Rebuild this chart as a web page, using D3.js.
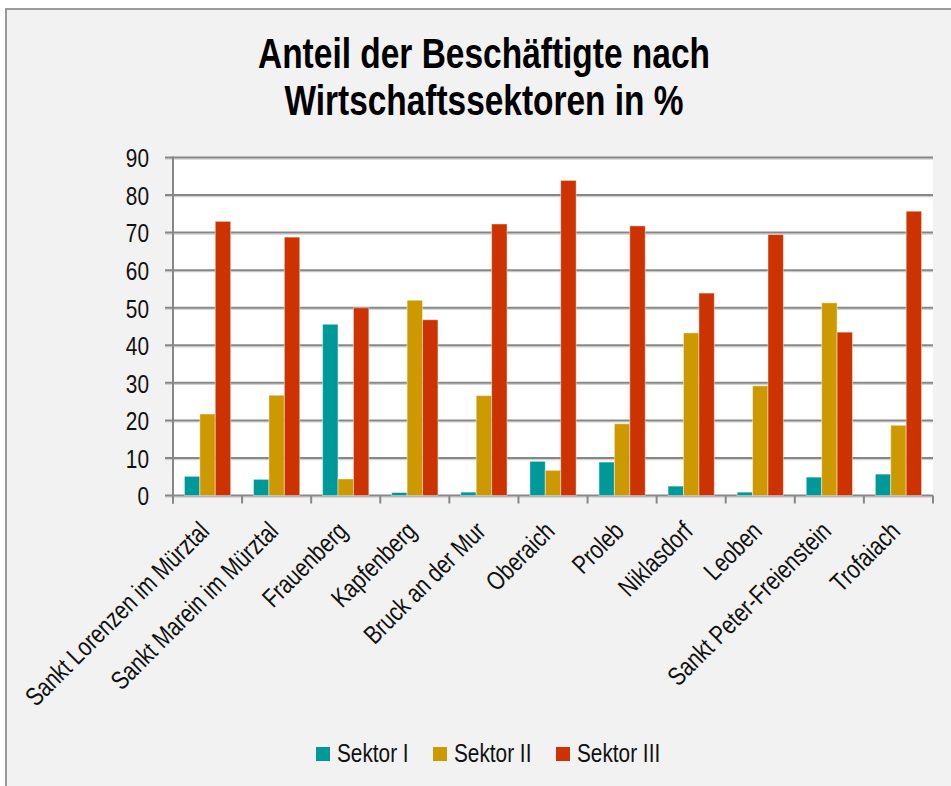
<!DOCTYPE html>
<html>
<head>
<meta charset="utf-8">
<script src="https://cdn.jsdelivr.net/npm/d3@7"></script>
<style>
  html, body { margin: 0; padding: 0; background: #ffffff; }
  svg { display: block; }
  .lbl { font-family: "Liberation Sans", Arial, sans-serif; fill: #111; }
</style>
</head>
<body>
<svg id="chart" width="951" height="786"></svg>
<script>
// Gemeinden (x-axis categories)
const categories = [
  "Sankt Lorenzen im Mürztal",
  "Sankt Marein im Mürztal",
  "Frauenberg",
  "Kapfenberg",
  "Bruck an der Mur",
  "Oberaich",
  "Proleb",
  "Niklasdorf",
  "Leoben",
  "Sankt Peter-Freienstein",
  "Trofaiach"
];

// Share of employees per economic sector, in %
const seriesNames = ["Sektor I", "Sektor II", "Sektor III"];
const sektorI   = [5.1, 4.3, 45.6, 0.8, 0.9, 9.1, 8.9, 2.5, 0.9, 4.9, 5.7];
const sektorII  = [21.7, 26.7, 4.4, 52.0, 26.6, 6.7, 19.1, 43.3, 29.2, 51.3, 18.7];
const sektorIII = [73.0, 68.8, 50.0, 46.8, 72.3, 83.9, 71.8, 53.9, 69.5, 43.5, 75.7];
const seriesColors = ["#009999", "#cc9900", "#cc3300"];

const yTicks = [0, 10, 20, 30, 40, 50, 60, 70, 80, 90];
const titleLines = ["Anteil der Beschäftigte nach", "Wirtschaftssektoren in %"];

const series = [sektorI, sektorII, sektorIII];

const svg = d3.select("#chart");
const W = 951, H = 786;
const plot = { left: 173, right: 933, top: 157.5, bottom: 495.5 };
const FS = 26;          // label font size
const NARROW = 0.8;     // horizontal condensing of label glyphs

// chart frame
svg.append("rect")
  .attr("x", 6).attr("y", 9)
  .attr("width", W + 10).attr("height", H + 10)
  .attr("fill", "#f2f2f2")
  .attr("stroke", "#9a9a9a").attr("stroke-width", 2);

// title
const title = svg.append("g");
const titleLen = [452, 399];
titleLines.forEach((t, i) => {
  title.append("text")
    .attr("class", "lbl")
    .attr("x", 484).attr("y", 67.7 + i * 47.4)
    .attr("text-anchor", "middle")
    .attr("font-size", 42).attr("font-weight", "bold")
    .attr("textLength", titleLen[i]).attr("lengthAdjust", "spacingAndGlyphs")
    .style("fill", "#000")
    .text(t);
});

// scales
const x0 = d3.scaleBand().domain(categories).range([plot.left, plot.right]).paddingInner(0).paddingOuter(0);
const x1 = d3.scaleBand().domain(d3.range(series.length)).range([0, x0.bandwidth()]).paddingInner(0).paddingOuter(0.74);
const y = d3.scaleLinear().domain([0, 90]).range([plot.bottom, plot.top]);

// plot area
svg.append("rect")
  .attr("x", plot.left).attr("y", plot.top)
  .attr("width", plot.right - plot.left).attr("height", plot.bottom - plot.top)
  .attr("fill", "#ffffff");

// gridlines (dark line with soft light shade below)
const grid = svg.append("g");
grid.selectAll("line.shade").data(yTicks).join("line")
  .attr("class", "shade")
  .attr("x1", plot.left - 8).attr("x2", plot.right)
  .attr("y1", d => y(d) + 1.6).attr("y2", d => y(d) + 1.6)
  .attr("stroke", "#d2d2d2").attr("stroke-width", 1.2);
grid.selectAll("line.major").data(yTicks).join("line")
  .attr("class", "major")
  .attr("x1", plot.left - 8).attr("x2", plot.right)
  .attr("y1", d => y(d)).attr("y2", d => y(d))
  .attr("stroke", "#878787").attr("stroke-width", 2);

// bars
const rows = categories.map((c, i) => ({ c, vals: series.map(s => s[i]) }));
const groups = svg.append("g").selectAll("g").data(rows).join("g")
  .attr("transform", d => `translate(${x0(d.c)},0)`);
groups.selectAll("rect").data(d => d.vals.map((v, k) => ({ v, k }))).join("rect")
  .attr("x", d => x1(d.k))
  .attr("y", d => y(d.v))
  .attr("width", x1.bandwidth())
  .attr("height", d => y(0) - y(d.v))
  .attr("fill", d => seriesColors[d.k])
  .attr("stroke", "rgba(255,255,255,0.45)").attr("stroke-width", 1);

// y axis
const yAxis = svg.append("g")
  .attr("transform", `translate(${plot.left},0)`)
  .call(d3.axisLeft(y).tickValues(yTicks).tickSize(8).tickPadding(24).tickFormat(d3.format("d")));
yAxis.select(".domain").attr("stroke", "#878787").attr("stroke-width", 2)
  .attr("d", `M0,${plot.top - 1}V${plot.bottom + 8}`);
yAxis.selectAll(".tick line").remove();
yAxis.selectAll(".tick text")
  .attr("class", "lbl").attr("font-size", FS)
  .attr("x", null).attr("dy", null)
  .attr("transform", `translate(-24,0) scale(${NARROW},1) translate(0,${FS * 0.36})`);

// x axis: category boundary ticks
const bounds = d3.range(categories.length + 1).map(i => plot.left + i * x0.step());
svg.append("g").selectAll("line").data(bounds).join("line")
  .attr("x1", d => d).attr("x2", d => d)
  .attr("y1", plot.bottom).attr("y2", plot.bottom + 8)
  .attr("stroke", "#878787").attr("stroke-width", 2);

// rotated category labels
svg.append("g").selectAll("text").data(categories).join("text")
  .attr("class", "lbl")
  .attr("font-size", FS)
  .attr("text-anchor", "end")
  .attr("transform", d => `translate(${x0(d) + x0.bandwidth() / 2 - 10},${plot.bottom + 24}) rotate(-45) scale(${NARROW},1) translate(0,${FS * 0.72})`)
  .text(d => d);

// legend
const legendX = [316, 433, 556];
const legend = svg.append("g");
seriesNames.forEach((n, i) => {
  legend.append("rect")
    .attr("x", legendX[i]).attr("y", 747)
    .attr("width", 14).attr("height", 14)
    .attr("fill", seriesColors[i]);
  legend.append("text")
    .attr("class", "lbl")
    .attr("font-size", FS)
    .attr("transform", `translate(${legendX[i] + 21},762) scale(${NARROW},1)`)
    .text(n);
});
</script>
</body>
</html>
